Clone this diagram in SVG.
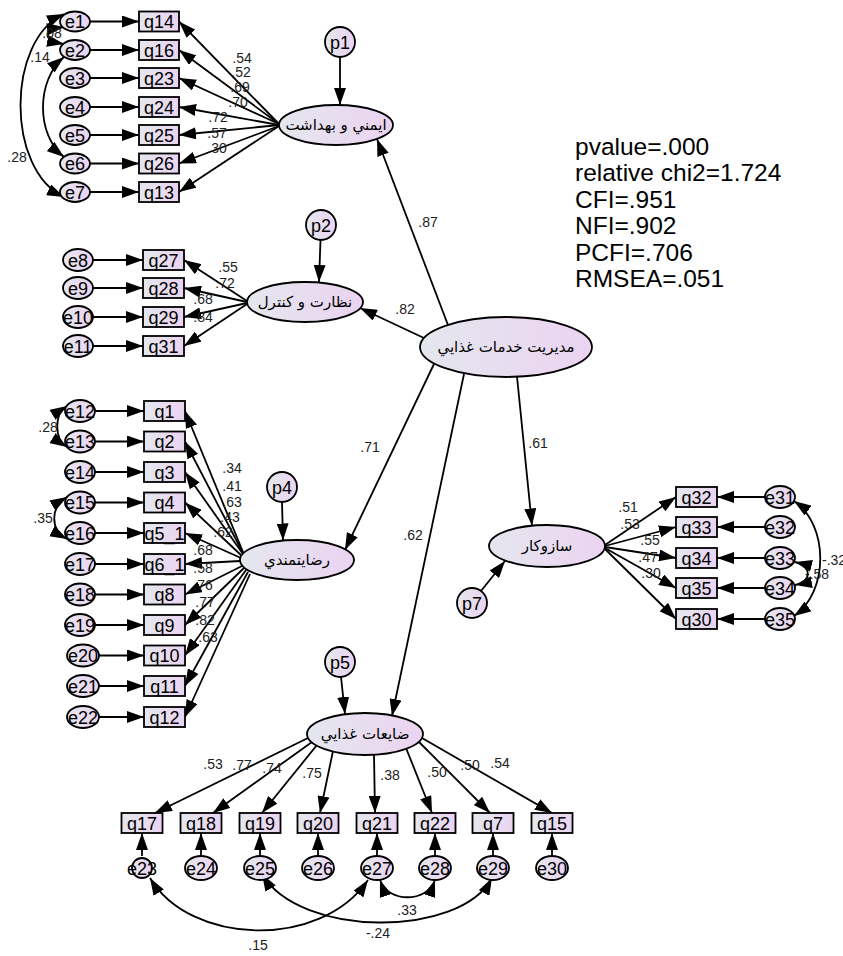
<svg xmlns="http://www.w3.org/2000/svg" width="843" height="956" viewBox="0 0 843 956">
<defs>
<linearGradient id="g" x1="0" y1="0" x2="1" y2="0"><stop offset="0" stop-color="#e4e7ee"/><stop offset="1" stop-color="#ebd3f1"/></linearGradient>
<marker id="a" viewBox="0 0 17 12" refX="17" refY="6" markerWidth="17" markerHeight="12" markerUnits="userSpaceOnUse" orient="auto"><path d="M0,0L17,6L0,12z"/></marker>
<marker id="b" viewBox="0 0 17 12" refX="17" refY="6" markerWidth="17" markerHeight="12" markerUnits="userSpaceOnUse" orient="auto-start-reverse"><path d="M0,0L17,6L0,12z"/></marker>
<style>
.n{fill:url(#g);stroke:#000;stroke-width:1.8}
.t{font-family:"Liberation Sans",Arial,sans-serif;font-size:18px;text-anchor:middle;fill:#000}
.l{font-family:"Liberation Sans",Arial,sans-serif;font-size:14px;text-anchor:middle;fill:#222}
.ar{font-family:"DejaVu Sans","Noto Sans",sans-serif;font-size:15px;text-anchor:middle;fill:#000}
.s{font-family:"Liberation Sans",Arial,sans-serif;font-size:24.5px;fill:#000}
.c{stroke:#000;stroke-width:1.8;fill:none;marker-end:url(#a)}
.d{stroke:#000;stroke-width:1.8;fill:none;marker-end:url(#a);marker-start:url(#b)}
</style>
</defs>
<rect width="843" height="956" fill="#fff"/>

<g id="connectors">
<path class="c" d="M448,325L377,139"/>
<path class="c" d="M424,338L360,308"/>
<path class="c" d="M434,364L345,550"/>
<path class="c" d="M464,374L392,716"/>
<path class="c" d="M517,376.5L532,525.5"/>
<path class="c" d="M340,57L340,105"/>
<path class="c" d="M320.5,240L319,282"/>
<path class="c" d="M282,502L283,540.5"/>
<path class="c" d="M341,677L345,714"/>
<path class="c" d="M481,591L505,561"/>
<path class="c" d="M90,21.5L139,21.5"/>
<path class="c" d="M90,50L139,50"/>
<path class="c" d="M90,78L139,78"/>
<path class="c" d="M90,107L139,107"/>
<path class="c" d="M90,135L139,135"/>
<path class="c" d="M90,163.5L139,163.5"/>
<path class="c" d="M90,192L139,192"/>
<path class="c" d="M279,124L179,21.5"/>
<path class="c" d="M279,124L179,50"/>
<path class="c" d="M279,124L179,78"/>
<path class="c" d="M279,125L179,107"/>
<path class="c" d="M279,125L179,135"/>
<path class="c" d="M279,126L179,163.5"/>
<path class="c" d="M279,126L179,192"/>
<path class="d" d="M64,27C42,30 42,40 64,44"/>
<path class="d" d="M64,57C36,80 36,135 64,157"/>
<path class="d" d="M64,14C6,40 6,170 64,197"/>
<path class="c" d="M93,260L143,260"/>
<path class="c" d="M93,288L143,288"/>
<path class="c" d="M93,317L143,317"/>
<path class="c" d="M93,346L143,346"/>
<path class="c" d="M247,301L184,260"/>
<path class="c" d="M247,302L184,288"/>
<path class="c" d="M247,303L184,317"/>
<path class="c" d="M247,304L184,346"/>
<path class="c" d="M95,411L144,411"/>
<path class="c" d="M95,441.5L144,441.5"/>
<path class="c" d="M95,472L144,472"/>
<path class="c" d="M95,502.5L144,502.5"/>
<path class="c" d="M95,533L144,533"/>
<path class="c" d="M95,564L144,564"/>
<path class="c" d="M95,594.5L144,594.5"/>
<path class="c" d="M95,625L144,625"/>
<path class="c" d="M99,655.5L144,655.5"/>
<path class="c" d="M99,686L144,686"/>
<path class="c" d="M99,717L144,717"/>
<path class="c" d="M243,552L185,411"/>
<path class="c" d="M243,553L185,441.5"/>
<path class="c" d="M243,554L185,472"/>
<path class="c" d="M242,556L185,502.5"/>
<path class="c" d="M241,558L185,533"/>
<path class="c" d="M240,561L185,564"/>
<path class="c" d="M242,566L185,594.5"/>
<path class="c" d="M244,568L185,625"/>
<path class="c" d="M246,570L185,655.5"/>
<path class="c" d="M248,572L185,686"/>
<path class="c" d="M250,574L185,717"/>
<path class="d" d="M67,406C54,414 54,439 67,447"/>
<path class="d" d="M67,497C50,507 50,530 67,539"/>
<path class="c" d="M765,497L717,497"/>
<path class="c" d="M765,527L717,527"/>
<path class="c" d="M765,558L717,558"/>
<path class="c" d="M765,588L717,588"/>
<path class="c" d="M765,619L717,619"/>
<path class="c" d="M605,545L676,497"/>
<path class="c" d="M605,546L676,527"/>
<path class="c" d="M605,547L676,558"/>
<path class="c" d="M605,548L676,588"/>
<path class="c" d="M605,549L676,619"/>
<path class="d" d="M794,501C829,525 829,592 794,616"/>
<path class="d" d="M795,562C812,566 812,582 795,585"/>
<path class="c" d="M308,738L155,813"/>
<path class="c" d="M312,742L213,813"/>
<path class="c" d="M317,745L262,813"/>
<path class="c" d="M333,751L320,813"/>
<path class="c" d="M374,754.5L375,813"/>
<path class="c" d="M406,748L432,813"/>
<path class="c" d="M419,742L490,813"/>
<path class="c" d="M422,738L552,813"/>
<path class="c" d="M142,856L142,833"/>
<path class="c" d="M201,856L201,833"/>
<path class="c" d="M260,856L260,833"/>
<path class="c" d="M318,856L318,833"/>
<path class="c" d="M377,856L377,833"/>
<path class="c" d="M435,856L435,833"/>
<path class="c" d="M493,856L493,833"/>
<path class="c" d="M552,856L552,833"/>
<path class="d" d="M150,878C190,945 320,950 368,880"/>
<path class="d" d="M262,874C300,938 460,938 492,878"/>
<path class="d" d="M380,880C388,903 427,903 435,880"/>
</g>

<g id="labels">
<text class="l" x="428" y="227">.87</text>
<text class="l" x="405" y="314">.82</text>
<text class="l" x="370" y="452">.71</text>
<text class="l" x="538" y="448">.61</text>
<text class="l" x="413" y="540">.62</text>
<text class="l" x="242" y="63">.54</text>
<text class="l" x="241" y="77">.52</text>
<text class="l" x="240" y="92">.69</text>
<text class="l" x="238" y="107">.70</text>
<text class="l" x="218" y="122">.72</text>
<text class="l" x="217" y="138">.57</text>
<text class="l" x="217" y="153">.30</text>
<text class="l" x="52" y="38">.08</text>
<text class="l" x="40" y="62">.14</text>
<text class="l" x="17" y="162">.28</text>
<text class="l" x="228" y="272">.55</text>
<text class="l" x="225" y="288">.72</text>
<text class="l" x="203" y="304">.68</text>
<text class="l" x="203" y="322">.84</text>
<text class="l" x="232" y="473">.34</text>
<text class="l" x="232" y="491">.41</text>
<text class="l" x="232" y="507">.63</text>
<text class="l" x="230" y="522">.43</text>
<text class="l" x="223" y="537">.62</text>
<text class="l" x="203" y="555">.68</text>
<text class="l" x="203" y="573">.58</text>
<text class="l" x="203" y="590">.76</text>
<text class="l" x="205" y="607">.77</text>
<text class="l" x="205" y="625">.82</text>
<text class="l" x="208" y="642">.63</text>
<text class="l" x="48" y="432">.28</text>
<text class="l" x="43" y="523">.35</text>
<text class="l" x="628" y="512">.51</text>
<text class="l" x="630" y="529">.53</text>
<text class="l" x="650" y="545">.55</text>
<text class="l" x="648" y="562">.47</text>
<text class="l" x="651" y="578">.30</text>
<text class="l" x="822" y="565" style="text-anchor:start">-.32</text>
<text class="l" x="805" y="579" style="text-anchor:start">-.58</text>
<text class="l" x="213" y="769">.53</text>
<text class="l" x="242" y="770">.77</text>
<text class="l" x="272" y="773">.74</text>
<text class="l" x="312" y="778">.75</text>
<text class="l" x="390" y="780">.38</text>
<text class="l" x="437" y="777">.50</text>
<text class="l" x="470" y="770">.50</text>
<text class="l" x="500" y="768">.54</text>
<text class="l" x="407" y="915">.33</text>
<text class="l" x="378" y="938">-.24</text>
<text class="l" x="258" y="950">.15</text>
</g>

<g id="latent-mgmt"><ellipse class="n" cx="506" cy="347" rx="86" ry="30"/><text class="ar" x="506" y="352">مديريت خدمات غذايي</text></g>
<g id="latent-safety"><ellipse class="n" cx="336" cy="125" rx="57" ry="20"/><text class="ar" x="336" y="130">ايمني و بهداشت</text></g>
<g id="latent-control"><ellipse class="n" cx="305" cy="302" rx="58" ry="20"/><text class="ar" x="305" y="307">نظارت و كنترل</text></g>
<g id="latent-satisfaction"><ellipse class="n" cx="297" cy="560" rx="57" ry="20"/><text class="ar" x="297" y="565">رضايتمندي</text></g>
<g id="latent-waste"><ellipse class="n" cx="365" cy="734" rx="58" ry="21"/><text class="ar" x="365" y="739">ضايعات غذايي</text></g>
<g id="latent-mechanism"><ellipse class="n" cx="547" cy="546" rx="58" ry="21"/><text class="ar" x="547" y="551">سازوكار</text></g>

<g id="p1"><circle class="n" cx="340" cy="42" r="15"/><text class="t" x="340" y="48.5">p1</text></g>
<g id="p2"><circle class="n" cx="321" cy="225" r="15"/><text class="t" x="321" y="231.5">p2</text></g>
<g id="p4"><circle class="n" cx="282" cy="487" r="15"/><text class="t" x="282" y="493.5">p4</text></g>
<g id="p5"><circle class="n" cx="340" cy="662" r="15"/><text class="t" x="340" y="668.5">p5</text></g>
<g id="p7"><circle class="n" cx="472" cy="603" r="15"/><text class="t" x="472" y="609.5">p7</text></g>

<g id="e1"><ellipse class="n" cx="75" cy="21.5" rx="15" ry="10"/><text class="t" x="75" y="28">e1</text></g>
<g id="e2"><ellipse class="n" cx="75" cy="50" rx="15" ry="10"/><text class="t" x="75" y="56.5">e2</text></g>
<g id="e3"><ellipse class="n" cx="75" cy="78" rx="15" ry="10"/><text class="t" x="75" y="84.5">e3</text></g>
<g id="e4"><ellipse class="n" cx="75" cy="107" rx="15" ry="10"/><text class="t" x="75" y="113.5">e4</text></g>
<g id="e5"><ellipse class="n" cx="75" cy="135" rx="15" ry="10"/><text class="t" x="75" y="141.5">e5</text></g>
<g id="e6"><ellipse class="n" cx="75" cy="163.5" rx="15" ry="10"/><text class="t" x="75" y="170">e6</text></g>
<g id="e7"><ellipse class="n" cx="75" cy="192" rx="15" ry="10"/><text class="t" x="75" y="198.5">e7</text></g>
<g id="q14"><rect class="n" x="139" y="11.5" width="40" height="20"/><text class="t" x="159" y="28">q14</text></g>
<g id="q16"><rect class="n" x="139" y="40" width="40" height="20"/><text class="t" x="159" y="56.5">q16</text></g>
<g id="q23"><rect class="n" x="139" y="68" width="40" height="20"/><text class="t" x="159" y="84.5">q23</text></g>
<g id="q24"><rect class="n" x="139" y="97" width="40" height="20"/><text class="t" x="159" y="113.5">q24</text></g>
<g id="q25"><rect class="n" x="139" y="125" width="40" height="20"/><text class="t" x="159" y="141.5">q25</text></g>
<g id="q26"><rect class="n" x="139" y="153.5" width="40" height="20"/><text class="t" x="159" y="170">q26</text></g>
<g id="q13"><rect class="n" x="139" y="182" width="40" height="20"/><text class="t" x="159" y="198.5">q13</text></g>

<g id="e8"><ellipse class="n" cx="78" cy="260" rx="15" ry="11"/><text class="t" x="78" y="266.5">e8</text></g>
<g id="e9"><ellipse class="n" cx="78" cy="288" rx="15" ry="11"/><text class="t" x="78" y="294.5">e9</text></g>
<g id="e10"><ellipse class="n" cx="78" cy="317" rx="15" ry="11"/><text class="t" x="78" y="323.5">e10</text></g>
<g id="e11"><ellipse class="n" cx="78" cy="346" rx="15" ry="11"/><text class="t" x="78" y="352.5">e11</text></g>
<g id="q27"><rect class="n" x="143" y="250" width="41" height="20"/><text class="t" x="163.5" y="266.5">q27</text></g>
<g id="q28"><rect class="n" x="143" y="278" width="41" height="20"/><text class="t" x="163.5" y="294.5">q28</text></g>
<g id="q29"><rect class="n" x="143" y="307" width="41" height="20"/><text class="t" x="163.5" y="323.5">q29</text></g>
<g id="q31"><rect class="n" x="143" y="336" width="41" height="20"/><text class="t" x="163.5" y="352.5">q31</text></g>

<g id="e12"><ellipse class="n" cx="80" cy="411" rx="15" ry="11"/><text class="t" x="80" y="417.5">e12</text></g>
<g id="e13"><ellipse class="n" cx="80" cy="441.5" rx="15" ry="11"/><text class="t" x="80" y="448">e13</text></g>
<g id="e14"><ellipse class="n" cx="80" cy="472" rx="15" ry="11"/><text class="t" x="80" y="478.5">e14</text></g>
<g id="e15"><ellipse class="n" cx="80" cy="502.5" rx="15" ry="11"/><text class="t" x="80" y="509">e15</text></g>
<g id="e16"><ellipse class="n" cx="80" cy="533" rx="15" ry="11"/><text class="t" x="80" y="539.5">e16</text></g>
<g id="e17"><ellipse class="n" cx="80" cy="564" rx="15" ry="11"/><text class="t" x="80" y="570.5">e17</text></g>
<g id="e18"><ellipse class="n" cx="80" cy="594.5" rx="15" ry="11"/><text class="t" x="80" y="601">e18</text></g>
<g id="e19"><ellipse class="n" cx="80" cy="625" rx="15" ry="11"/><text class="t" x="80" y="631.5">e19</text></g>
<g id="e20"><ellipse class="n" cx="83" cy="655.5" rx="16" ry="11"/><text class="t" x="83" y="662">e20</text></g>
<g id="e21"><ellipse class="n" cx="83" cy="686" rx="16" ry="11"/><text class="t" x="83" y="692.5">e21</text></g>
<g id="e22"><ellipse class="n" cx="83" cy="717" rx="16" ry="11"/><text class="t" x="83" y="723.5">e22</text></g>
<g id="q1"><rect class="n" x="144" y="401" width="41" height="20"/><text class="t" x="164.5" y="417.5">q1</text></g>
<g id="q2"><rect class="n" x="144" y="431.5" width="41" height="20"/><text class="t" x="164.5" y="448">q2</text></g>
<g id="q3"><rect class="n" x="144" y="462" width="41" height="20"/><text class="t" x="164.5" y="478.5">q3</text></g>
<g id="q4"><rect class="n" x="144" y="492.5" width="41" height="20"/><text class="t" x="164.5" y="509">q4</text></g>
<g id="q5_1"><rect class="n" x="144" y="523" width="41" height="20"/><text class="t" x="164.5" y="539.5">q5_1</text></g>
<g id="q6_1"><rect class="n" x="144" y="554" width="41" height="20"/><text class="t" x="164.5" y="570.5">q6_1</text></g>
<g id="q8"><rect class="n" x="144" y="584.5" width="41" height="20"/><text class="t" x="164.5" y="601">q8</text></g>
<g id="q9"><rect class="n" x="144" y="615" width="41" height="20"/><text class="t" x="164.5" y="631.5">q9</text></g>
<g id="q10"><rect class="n" x="144" y="645.5" width="41" height="20"/><text class="t" x="164.5" y="662">q10</text></g>
<g id="q11"><rect class="n" x="144" y="676" width="41" height="20"/><text class="t" x="164.5" y="692.5">q11</text></g>
<g id="q12"><rect class="n" x="144" y="707" width="41" height="20"/><text class="t" x="164.5" y="723.5">q12</text></g>

<g id="q32"><rect class="n" x="676" y="487" width="41" height="20"/><text class="t" x="696.5" y="503.5">q32</text></g>
<g id="q33"><rect class="n" x="676" y="517" width="41" height="20"/><text class="t" x="696.5" y="533.5">q33</text></g>
<g id="q34"><rect class="n" x="676" y="548" width="41" height="20"/><text class="t" x="696.5" y="564.5">q34</text></g>
<g id="q35"><rect class="n" x="676" y="578" width="41" height="20"/><text class="t" x="696.5" y="594.5">q35</text></g>
<g id="q30"><rect class="n" x="676" y="609" width="41" height="20"/><text class="t" x="696.5" y="625.5">q30</text></g>
<g id="e31"><ellipse class="n" cx="780" cy="497" rx="15" ry="11"/><text class="t" x="780" y="503.5">e31</text></g>
<g id="e32"><ellipse class="n" cx="780" cy="527" rx="15" ry="11"/><text class="t" x="780" y="533.5">e32</text></g>
<g id="e33"><ellipse class="n" cx="780" cy="558" rx="15" ry="11"/><text class="t" x="780" y="564.5">e33</text></g>
<g id="e34"><ellipse class="n" cx="780" cy="588" rx="15" ry="11"/><text class="t" x="780" y="594.5">e34</text></g>
<g id="e35"><ellipse class="n" cx="780" cy="619" rx="15" ry="11"/><text class="t" x="780" y="625.5">e35</text></g>

<g id="q17"><rect class="n" x="121.5" y="813" width="41" height="20"/><text class="t" x="142" y="829.5">q17</text></g>
<g id="q18"><rect class="n" x="180.5" y="813" width="41" height="20"/><text class="t" x="201" y="829.5">q18</text></g>
<g id="q19"><rect class="n" x="239.5" y="813" width="41" height="20"/><text class="t" x="260" y="829.5">q19</text></g>
<g id="q20"><rect class="n" x="297.5" y="813" width="41" height="20"/><text class="t" x="318" y="829.5">q20</text></g>
<g id="q21"><rect class="n" x="356.5" y="813" width="41" height="20"/><text class="t" x="377" y="829.5">q21</text></g>
<g id="q22"><rect class="n" x="414.5" y="813" width="41" height="20"/><text class="t" x="435" y="829.5">q22</text></g>
<g id="q7"><rect class="n" x="472.5" y="813" width="41" height="20"/><text class="t" x="493" y="829.5">q7</text></g>
<g id="q15"><rect class="n" x="531.5" y="813" width="41" height="20"/><text class="t" x="552" y="829.5">q15</text></g>
<g id="e23"><ellipse class="n" cx="142" cy="868" rx="10" ry="10"/><text class="t" x="142" y="874.5">e23</text></g>
<g id="e24"><ellipse class="n" cx="201" cy="868" rx="16" ry="12"/><text class="t" x="201" y="874.5">e24</text></g>
<g id="e25"><ellipse class="n" cx="260" cy="868" rx="16" ry="12"/><text class="t" x="260" y="874.5">e25</text></g>
<g id="e26"><ellipse class="n" cx="318" cy="868" rx="16" ry="12"/><text class="t" x="318" y="874.5">e26</text></g>
<g id="e27"><ellipse class="n" cx="377" cy="868" rx="16" ry="12"/><text class="t" x="377" y="874.5">e27</text></g>
<g id="e28"><ellipse class="n" cx="435" cy="868" rx="16" ry="12"/><text class="t" x="435" y="874.5">e28</text></g>
<g id="e29"><ellipse class="n" cx="493" cy="868" rx="16" ry="12"/><text class="t" x="493" y="874.5">e29</text></g>
<g id="e30"><ellipse class="n" cx="552" cy="868" rx="16" ry="12"/><text class="t" x="552" y="874.5">e30</text></g>

<g id="fit-stats">
<text class="s" x="575" y="155">pvalue=.000</text>
<text class="s" x="575" y="181.4">relative chi2=1.724</text>
<text class="s" x="575" y="207.8">CFI=.951</text>
<text class="s" x="575" y="234.2">NFI=.902</text>
<text class="s" x="575" y="260.6">PCFI=.706</text>
<text class="s" x="575" y="287">RMSEA=.051</text>
</g>
</svg>
